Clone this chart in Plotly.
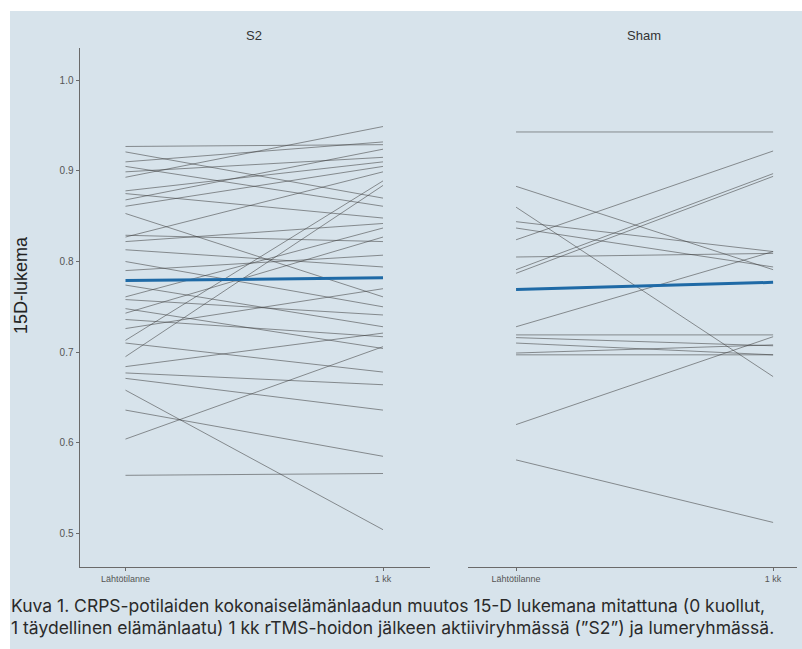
import plotly.graph_objects as go

# 15D scores per patient: baseline and 1 month after rTMS
timepoints = ["Lähtötilanne", "1 kk"]

s2_baseline = [0.927, 0.921, 0.910, 0.905, 0.899, 0.893, 0.878, 0.875, 0.868, 0.861,
               0.853, 0.829, 0.827, 0.822, 0.813, 0.800, 0.790, 0.774, 0.761, 0.758,
               0.748, 0.743, 0.736, 0.726, 0.713, 0.710, 0.695, 0.684, 0.677, 0.671,
               0.658, 0.636, 0.604, 0.564]
s2_month1 = [0.929, 0.870, 0.932, 0.861, 0.915, 0.949, 0.910, 0.848, 0.924, 0.905,
             0.761, 0.822, 0.899, 0.842, 0.794, 0.750, 0.807, 0.728, 0.837, 0.741,
             0.704, 0.827, 0.717, 0.770, 0.889, 0.678, 0.884, 0.721, 0.664, 0.636,
             0.504, 0.585, 0.706, 0.566]

sham_baseline = [0.943, 0.883, 0.860, 0.844, 0.837, 0.824, 0.805, 0.791, 0.787, 0.728,
                 0.719, 0.716, 0.710, 0.699, 0.697, 0.620, 0.581]
sham_month1 = [0.943, 0.791, 0.673, 0.811, 0.794, 0.922, 0.809, 0.897, 0.894, 0.811,
               0.719, 0.707, 0.697, 0.708, 0.697, 0.717, 0.512]

# group means
s2_mean = [0.779, 0.782]
sham_mean = [0.769, 0.777]

W, H = 802, 649
BG = "#d7e3eb"
AXIS = "#6a6a6a"
LINE = "rgba(60,60,60,0.6)"
MEAN = "#1f6aa6"


def px_x(p):
    return p / W


def px_y(p):
    return 1 - p / H


fig = go.Figure()

panels = [("x", "y", s2_baseline, s2_month1, s2_mean),
          ("x2", "y2", sham_baseline, sham_month1, sham_mean)]

for xa, ya, base, m1, mean in panels:
    for b, m in zip(base, m1):
        fig.add_trace(go.Scatter(x=[1, 2], y=[b, m], mode="lines", xaxis=xa, yaxis=ya,
                                 line=dict(color=LINE, width=0.9),
                                 hoverinfo="skip", showlegend=False))
    fig.add_trace(go.Scatter(x=[1, 2], y=mean, mode="lines", xaxis=xa, yaxis=ya,
                             line=dict(color=MEAN, width=3),
                             hoverinfo="skip", showlegend=False))

yrange = [0.4628, 1.0357]
y_dom = [px_y(567), px_y(48)]
tick_font = dict(family="Liberation Sans, Arial, sans-serif", size=10, color="#555555")

xaxis_common = dict(tickmode="array", tickvals=[1, 2], ticktext=timepoints,
                    showgrid=False, zeroline=False, showline=True, linecolor=AXIS,
                    linewidth=1, ticks="outside", ticklen=3, tickcolor=AXIS,
                    tickfont=dict(family="Liberation Sans, Arial, sans-serif", size=9,
                                  color="#555555"))

fig.update_layout(
    width=W, height=H,
    margin=dict(l=0, r=0, t=0, b=0),
    paper_bgcolor="white",
    plot_bgcolor="rgba(0,0,0,0)",
    showlegend=False,
    xaxis=dict(domain=[px_x(79.5), px_x(430)], range=[0.8214, 2.1825], **xaxis_common),
    xaxis2=dict(domain=[px_x(468), px_x(797)], range=[0.813, 2.093], anchor="y2",
                **xaxis_common),
    yaxis=dict(domain=y_dom, range=yrange, tickvals=[0.5, 0.6, 0.7, 0.8, 0.9, 1.0],
               ticktext=["0.5", "0.6", "0.7", "0.8", "0.9", "1.0"],
               showgrid=False, zeroline=False, showline=True, linecolor=AXIS,
               linewidth=1, ticks="outside", ticklen=3, tickcolor=AXIS,
               tickfont=tick_font),
    yaxis2=dict(domain=y_dom, range=yrange, anchor="x2", showgrid=False,
                zeroline=False, showline=False, showticklabels=False, ticks=""),
    shapes=[dict(type="rect", xref="paper", yref="paper",
                 x0=px_x(10), x1=1, y0=0, y1=px_y(11),
                 fillcolor=BG, line=dict(width=0), layer="below")],
)

strip_font = dict(family="Liberation Sans, Arial, sans-serif", size=13, color="#333333")
fig.add_annotation(text="S2", x=px_x(254), y=px_y(35), xref="paper", yref="paper",
                   showarrow=False, font=strip_font, xanchor="center", yanchor="middle")
fig.add_annotation(text="Sham", x=px_x(644), y=px_y(35), xref="paper", yref="paper",
                   showarrow=False, font=strip_font, xanchor="center", yanchor="middle")
fig.add_annotation(text="15D-lukema", x=px_x(21), y=px_y(285), xref="paper", yref="paper",
                   showarrow=False, textangle=-90, xanchor="center", yanchor="middle",
                   font=dict(family="Liberation Sans, Arial, sans-serif", size=18,
                             color="#222222"))

caption_font = dict(family="Inter, Noto Sans, sans-serif", size=17.5, color="#2a2a2a")
captions = [
    "Kuva 1. CRPS-potilaiden kokonaiselämänlaadun muutos 15-D lukemana mitattuna (0 kuollut,",
    "1 täydellinen elämänlaatu) 1 kk rTMS-hoidon jälkeen aktiiviryhmässä (”S2”) ja lumeryhmässä.",
]
for i, line in enumerate(captions):
    fig.add_annotation(text=line, x=px_x(9), y=px_y(605 + 22 * i), xref="paper",
                       yref="paper", showarrow=False, xanchor="left", yanchor="middle",
                       font=caption_font)

fig.write_html("out.html")
